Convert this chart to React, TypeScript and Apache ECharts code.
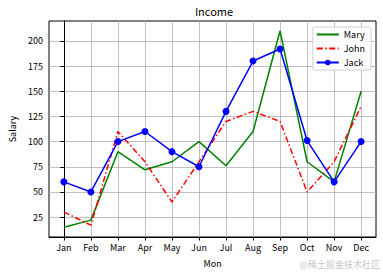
import React, { useEffect, useRef } from "react";
import * as echarts from "echarts";

const months = ["Jan", "Feb", "Mar", "Apr", "May", "Jun", "Jul", "Aug", "Sep", "Oct", "Nov", "Dec"];
const mary = [15, 22, 90, 72, 80, 100, 76, 110, 210, 80, 60, 150];
const john = [30, 17, 110, 80, 40, 80, 120, 130, 120, 50, 80, 135];
const jack = [60, 50, 100, 110, 90, 75, 130, 180, 192, 101, 60, 100];
const yTicks = [25, 50, 75, 100, 125, 150, 175, 200];

const FONT = "Noto Sans CJK SC";

export default function App() {
  const ref = useRef<HTMLDivElement>(null);
  useEffect(() => {
    document.body.style.margin = "0";
    if (!ref.current) return;
    const chart = echarts.init(ref.current, null, { renderer: "svg" });
    const xIdx = months.map((_, i) => i);
    const toPairs = (arr: number[]) => arr.map((v, i) => [i, v]);
    const allVals = [...mary, ...john, ...jack];
    const lo = Math.min(...allVals);
    const hi = Math.max(...allVals);
    const pad = (hi - lo) * 0.05;
    const xPad = (months.length - 1) * 0.05;
    chart.setOption({
      animation: false,
      backgroundColor: "#fff",
      textStyle: { fontFamily: FONT },
      title: {
        text: "Income",
        left: 209,
        textAlign: "center",
        top: 0,
        textStyle: { fontFamily: FONT, fontSize: 11, fontWeight: "normal", color: "#000" },
      },
      grid: {
        left: 42,
        right: 7,
        top: 21,
        bottom: 34,
        show: true,
        borderColor: "#000",
        borderWidth: 1,
        backgroundColor: "transparent",
      },
      legend: {
        orient: "vertical",
        right: 12,
        top: 27,
        itemWidth: 22,
        itemHeight: 7,
        itemGap: 5,
        padding: [3, 6, 3, 3],
        backgroundColor: "rgba(255,255,255,0.85)",
        borderColor: "#d0d0d0",
        borderWidth: 1,
        borderRadius: 2,
        textStyle: { fontFamily: FONT, fontSize: 9, color: "#000" },
        data: [
          { name: "Mary", itemStyle: { opacity: 0 } },
          { name: "John", itemStyle: { opacity: 0 } },
          { name: "Jack" },
        ],
      },
      xAxis: {
        type: "value",
        min: -xPad,
        max: months.length - 1 + xPad,
        name: "Mon",
        nameLocation: "middle",
        nameGap: 22,
        nameTextStyle: { fontFamily: FONT, fontSize: 9, color: "#000" },
        axisLine: { show: true, onZero: false, lineStyle: { color: "#000", width: 1 } },
        axisTick: { show: true, length: 3.5, inside: false, customValues: xIdx, lineStyle: { color: "#000" } },
        axisLabel: {
          customValues: xIdx,
          formatter: (v: number) => months[Math.round(v)] ?? "",
          fontFamily: FONT,
          fontSize: 9,
          color: "#000",
          margin: 6,
        },
        splitLine: { show: true, lineStyle: { color: "#b0b0b0", width: 0.8 } },
      },
      yAxis: {
        type: "value",
        min: lo - pad,
        max: hi + pad,
        name: "Salary",
        nameLocation: "middle",
        nameGap: 32,
        nameRotate: 90,
        nameTextStyle: { fontFamily: FONT, fontSize: 9, color: "#000" },
        axisLine: { show: true, lineStyle: { color: "#000", width: 1 } },
        axisTick: { show: true, length: 3.5, customValues: yTicks, lineStyle: { color: "#000" } },
        axisLabel: { customValues: yTicks, fontFamily: FONT, fontSize: 9, color: "#000", margin: 6 },
        splitLine: { show: true, lineStyle: { color: "#b0b0b0", width: 0.8 } },
      },
      series: [
        {
          name: "Mary",
          type: "line",
          data: toPairs(mary),
          symbol: "none",
          color: "#008000",
          lineStyle: { color: "#008000", width: 1.5 },
        },
        {
          name: "John",
          type: "line",
          data: toPairs(john),
          symbol: "none",
          color: "#ff0000",
          lineStyle: { color: "#ff0000", width: 1.5, type: [6, 2.5, 1.5, 2.5] },
        },
        {
          name: "Jack",
          type: "line",
          data: toPairs(jack),
          symbol: "circle",
          symbolSize: 7,
          color: "#0000ff",
          itemStyle: { color: "#0000ff" },
          lineStyle: { color: "#0000ff", width: 1.5 },
        },
      ],
      graphic: [
        {
          type: "text",
          right: 3,
          bottom: 4,
          style: { text: "@稀土掘金技术社区", fontFamily: FONT, fontSize: 9, fill: "#c8c8c8" },
        },
      ],
    });
    return () => chart.dispose();
  }, []);
  return <div ref={ref} style={{ width: 383, height: 273 }} />;
}
